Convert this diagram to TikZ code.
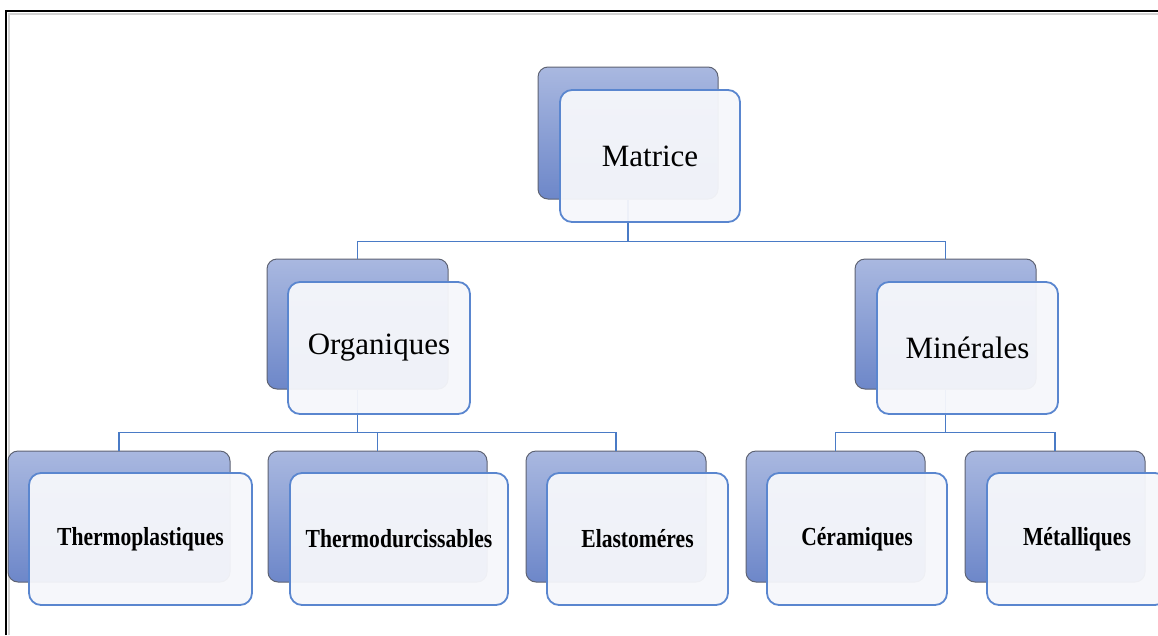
\documentclass[tikz,border=0pt]{standalone}
\usepackage{fontspec}
\setmainfont{Liberation Serif}
\definecolor{backtop}{HTML}{A9B8E0}
\definecolor{backbot}{HTML}{6D87C9}
\definecolor{backedge}{HTML}{5E6373}
\definecolor{frontfill}{HTML}{F6F7FB}
\definecolor{frontedge}{HTML}{5A86CF}
\definecolor{linkcol}{HTML}{4A7BC6}
\newcommand\condtxt[1]{\scalebox{0.83}[1]{#1}}
\begin{document}
\begin{tikzpicture}[x=1pt,y=-1pt,
  backbox/.style={rectangle, rounded corners=10pt, draw=backedge, line width=1pt,
    top color=backtop, bottom color=backbot, inner sep=0pt},
  frontbox/.style={rectangle, rounded corners=12pt, draw=frontedge, line width=1.8pt,
    fill=frontfill, fill opacity=0.95, text opacity=1, inner sep=0pt, align=center},
  toptxt/.style={font=\fontsize{31}{31}\selectfont},
  bottxt/.style={font=\bfseries\fontsize{26}{26}\selectfont},
  link/.style={draw=linkcol, line width=1.8pt}]
\useasboundingbox (0,0) rectangle (1158,635);
\fill[white] (0,0) rectangle (1158,635);
% frame
\draw[gray!35, line width=2pt] (9,635) -- (9,14) -- (1158,14);
\draw[black, line width=1.4pt] (6,635) -- (6,11) -- (1158,11);
% back boxes
\node[backbox, minimum width=180pt, minimum height=132pt] (mB) at (628,133) {};
\node[backbox, minimum width=181pt, minimum height=130pt] (oB) at (357.5,324) {};
\node[backbox, minimum width=181pt, minimum height=130pt] (nB) at (945.5,324) {};
\node[backbox, minimum width=222pt, minimum height=131pt] (tpB) at (119,516.5) {};
\node[backbox, minimum width=219pt, minimum height=131pt] (tdB) at (377.5,516.5) {};
\node[backbox, minimum width=180pt, minimum height=131pt] (elB) at (616,516.5) {};
\node[backbox, minimum width=179pt, minimum height=131pt] (ceB) at (835.5,516.5) {};
\node[backbox, minimum width=180pt, minimum height=131pt] (meB) at (1055,516.5) {};
% connectors
\draw[link] (mB.south) -- ++(0,42) -| (oB.north);
\draw[link] (mB.south) -- ++(0,42) -| (nB.north);
\draw[link] (oB.south) -- ++(0,43) -| (tpB.north);
\draw[link] (oB.south) -- ++(0,43) -| (tdB.north);
\draw[link] (oB.south) -- ++(0,43) -| (elB.north);
\draw[link] (nB.south) -- ++(0,43) -| (ceB.north);
\draw[link] (nB.south) -- ++(0,43) -| (meB.north);
% front boxes
\node[frontbox, toptxt, minimum width=180pt, minimum height=132pt] (m) at (650,156) {Matrice};
\node[frontbox, toptxt, minimum width=182pt, minimum height=132pt] (o) at (379,348) {Organiques};
\node[frontbox, toptxt, minimum width=181pt, minimum height=132pt] (n) at (967.5,348) {Minérales};
\node[frontbox, bottxt, minimum width=223pt, minimum height=132pt] (tp) at (140.5,539) {\condtxt{Thermoplastiques}};
\node[frontbox, bottxt, minimum width=218pt, minimum height=132pt] (td) at (399,539) {\condtxt{Thermodurcissables}};
\node[frontbox, bottxt, minimum width=181pt, minimum height=132pt] (el) at (637.5,539) {\condtxt{Elastoméres}};
\node[frontbox, bottxt, minimum width=180pt, minimum height=132pt] (ce) at (857,539) {\condtxt{Céramiques}};
\node[frontbox, bottxt, minimum width=180pt, minimum height=132pt] (me) at (1077,539) {\condtxt{Métalliques}};
\end{tikzpicture}
\end{document}
